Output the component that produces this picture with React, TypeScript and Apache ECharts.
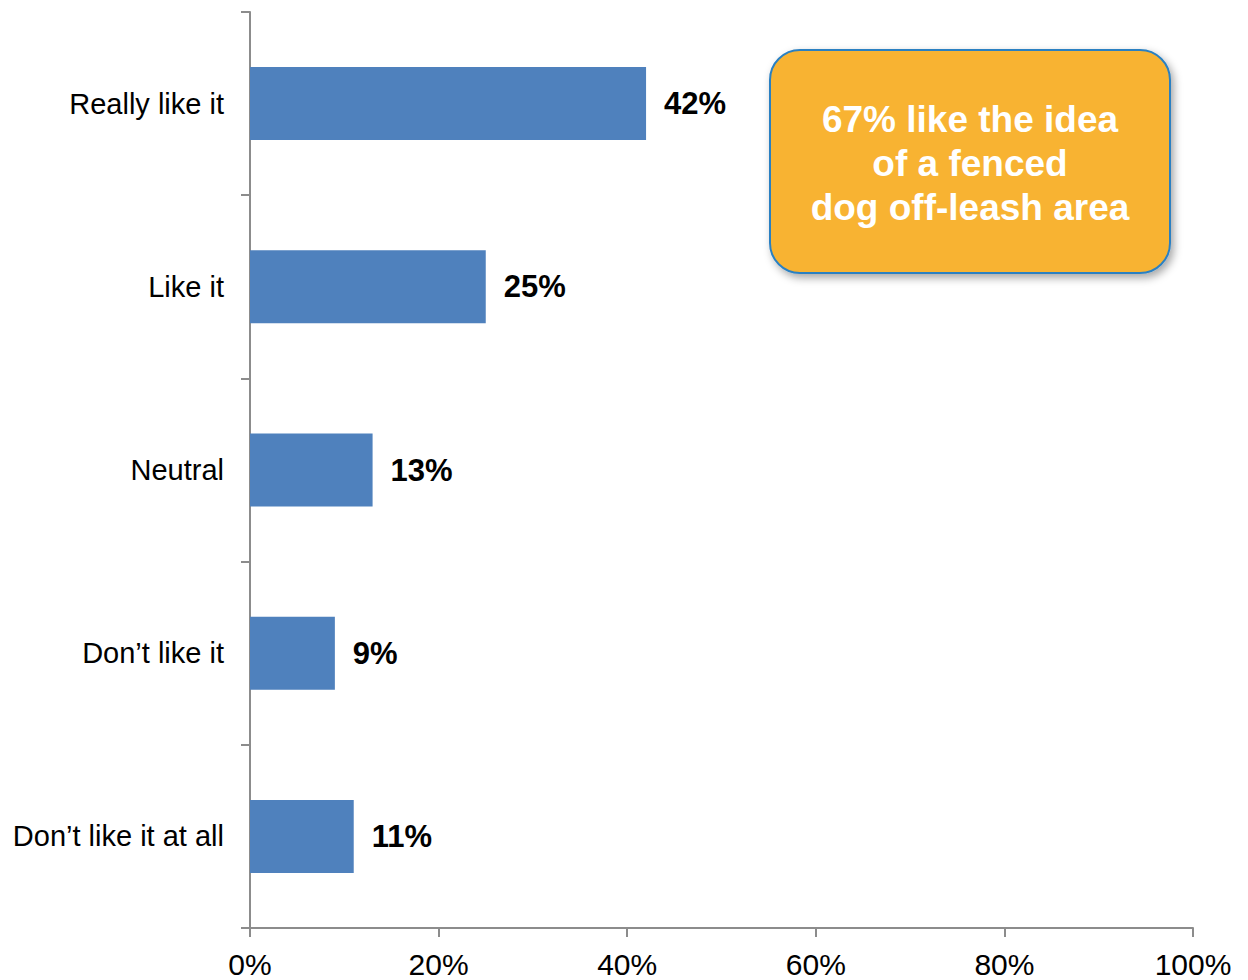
import React, { useEffect, useRef } from "react";
import * as echarts from "echarts";

const categories = ["Really like it", "Like it", "Neutral", "Don\u2019t like it", "Don\u2019t like it at all"];
const values = [42, 25, 13, 9, 11];
const xTicks = [0, 20, 40, 60, 80, 100];
const calloutLines = ["67% like the idea", "of a fenced", "dog off-leash area"];

export default function App() {
  const ref = useRef<HTMLDivElement>(null);
  useEffect(() => {
    const chart = echarts.init(ref.current!, null, { renderer: "svg" });
    const font = "Arial, 'Liberation Sans', Helvetica, sans-serif";
    chart.setOption({
      animation: false,
      grid: { left: 250, right: 55, top: 12, bottom: 52, containLabel: false },
      xAxis: {
        type: "value",
        min: 0,
        max: 100,
        interval: 20,
        axisLine: { show: true, lineStyle: { color: "#8c8c8c", width: 2 } },
        axisTick: { show: true, length: 9, lineStyle: { color: "#8c8c8c", width: 2 } },
        splitLine: { show: false },
        axisLabel: {
          margin: 21,
          fontSize: 30,
          color: "#000",
          fontFamily: font,
          formatter: (v: number) => (xTicks.includes(v) ? v + "%" : ""),
        },
      },
      yAxis: {
        type: "category",
        inverse: true,
        data: categories,
        axisLine: { show: true, lineStyle: { color: "#8c8c8c", width: 2 } },
        axisTick: { show: true, length: 9, lineStyle: { color: "#8c8c8c", width: 2 } },
        axisLabel: { margin: 26, fontSize: 29, color: "#000", fontFamily: font },
      },
      series: [
        {
          type: "bar",
          data: values,
          barWidth: 73,
          itemStyle: { color: "#4F81BD" },
          label: {
            show: true,
            position: "right",
            distance: 18,
            formatter: "{c}%",
            fontSize: 31,
            fontWeight: "bold",
            color: "#000",
            fontFamily: font,
          },
        },
      ],
      graphic: [
        {
          type: "rect",
          shape: { x: 770, y: 50, width: 400, height: 223, r: 30 },
          style: {
            fill: "#F8B333",
            stroke: "#2B80C2",
            lineWidth: 2,
            shadowBlur: 8,
            shadowOffsetX: 3,
            shadowOffsetY: 4,
            shadowColor: "rgba(0,0,0,0.35)",
          },
        },
        ...calloutLines.map((t, i) => ({
          type: "text",
          x: 970,
          y: 119 + i * 44,
          style: {
            text: t,
            fill: "#fff",
            font: `bold 37px ${font}`,
            textAlign: "center",
            textVerticalAlign: "middle",
          },
        })),
      ],
    });
    return () => chart.dispose();
  }, []);
  return <div ref={ref} style={{ width: 1248, height: 980, position: "absolute", left: 0, top: 0 }} />;
}
